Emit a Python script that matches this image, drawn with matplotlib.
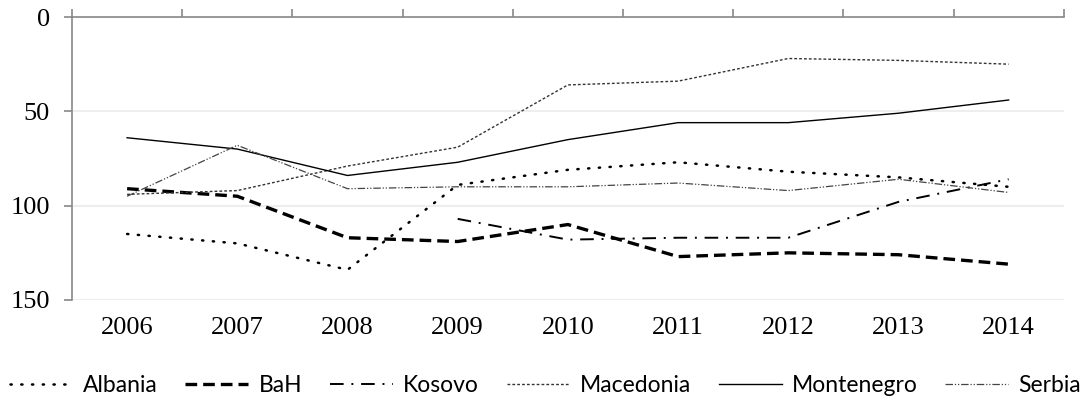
import matplotlib
matplotlib.use("Agg")
import matplotlib.pyplot as plt
from matplotlib.ticker import FixedLocator

years = ["2006", "2007", "2008", "2009", "2010", "2011", "2012", "2013", "2014"]
albania = [115, 120, 134, 89, 81, 77, 82, 85, 90]
bah = [91, 95, 117, 119, 110, 127, 125, 126, 131]
kosovo = [None, None, None, 107, 118, 117, 117, 98, 86]
macedonia = [94, 92, 79, 69, 36, 34, 22, 23, 25]
montenegro = [64, 70, 84, 77, 65, 56, 56, 51, 44]
serbia = [95, 68, 91, 90, 90, 88, 92, 86, 93]

plt.rcParams["font.family"] = ["Liberation Serif"]

x = list(range(len(years)))

fig = plt.figure(figsize=(10.91, 4), dpi=100)
ax = fig.add_axes([0.066, 0.25, 0.909, 0.7075])

def clean(vals):
    return [float("nan") if v is None else v for v in vals]

ax.plot(x, clean(albania), color="black", lw=1.8, linestyle=(0, (0.5, 3.8)),
        dash_capstyle="round", label="Albania")
ax.plot(x, clean(bah), color="black", lw=2.4, linestyle=(0, (3.5, 1.8)), label="BaH")
ax.plot(x, clean(kosovo), color="black", lw=1.4, linestyle=(0, (7, 4, 1, 4)), label="Kosovo")
ax.plot(x, clean(macedonia), color="#333333", lw=1.0, linestyle=(0, (2, 1.5)), label="Macedonia")
ax.plot(x, clean(montenegro), color="black", lw=1.0, linestyle="-", label="Montenegro")
ax.plot(x, clean(serbia), color="#444444", lw=0.9, linestyle=(0, (6, 1.5, 1, 1.5, 1, 1.5)), label="Serbia")

ax.set_xlim(-0.5, 8.5)
ax.set_ylim(150, 0)

ax.set_yticks([0, 50, 100, 150])
ax.set_yticklabels(["0", "50", "100", "150"], fontsize=19)
ax.yaxis.grid(True, color="#eeeeee", lw=1.5)
ax.set_axisbelow(True)

ax.set_xticks(x)
ax.set_xticklabels(years, fontsize=19)
ax.xaxis.set_minor_locator(FixedLocator([i - 0.5 for i in range(len(years) + 1)]))
ax.tick_params(axis="x", which="major", length=0, pad=12)
ax.tick_params(axis="x", which="minor", top=True, bottom=False, direction="out",
               length=6, width=1.2, color="#888888")
ax.tick_params(axis="y", which="major", length=6, width=1.2, color="#888888", pad=10)

for s in ["bottom", "right"]:
    ax.spines[s].set_visible(False)
for s in ["top", "left"]:
    ax.spines[s].set_color("#888888")
    ax.spines[s].set_linewidth(1.2)

fig.legend(loc="lower center", bbox_to_anchor=(0.5, -0.025), ncol=6, frameon=False,
           prop={"family": "Lato", "size": 16.5}, handlelength=2.75,
           columnspacing=1.2, handletextpad=0.45, borderaxespad=0.2)

fig.savefig("out.png", dpi=100)
